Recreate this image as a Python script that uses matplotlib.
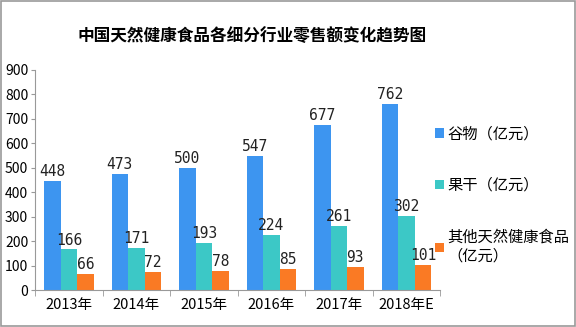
import numpy as np
import matplotlib.pyplot as plt
from matplotlib.patches import Rectangle

plt.rcParams['font.family'] = ['Noto Sans CJK SC', 'DejaVu Sans']

years = ['2013年', '2014年', '2015年', '2016年', '2017年', '2018年E']
grain = [448, 473, 500, 547, 677, 762]
dried_fruit = [166, 171, 193, 224, 261, 302]
other = [66, 72, 78, 85, 93, 101]
series_names = ['谷物（亿元）', '果干（亿元）', '其他天然健康食品\n（亿元）']
colors = ['#3D95F0', '#3CC8C6', '#FA7A24']

fig = plt.figure(figsize=(5.76, 3.27), dpi=100)
ax = fig.add_axes([0.061, 0.113, 0.703, 0.673])

x = np.arange(len(years))
w = 0.245
for i, (vals, name, c) in enumerate(zip([grain, dried_fruit, other], series_names, colors)):
    pos = x + (i - 1) * w
    ax.bar(pos, vals, width=w, color=c, label=name)
    for px, v in zip(pos, vals):
        ax.text(px, v + 8, str(v), ha='center', va='bottom', fontsize=10.5,
                family=['DejaVu Sans Mono', 'DejaVu Sans'], color='#222222')

ax.set_xlim(-0.5, len(years) - 0.5)
ax.set_ylim(0, 900)
ax.set_yticks(range(0, 901, 100))
ax.set_xticks(x)
ax.set_xticklabels(years, fontsize=10.5)
ax.set_xticks(np.arange(-0.5, len(years), 1), minor=True)
ax.tick_params(axis='x', which='major', length=0, pad=6)
ax.tick_params(axis='x', which='minor', length=4, color='#999999')
ax.tick_params(axis='y', length=3, color='#999999', labelsize=10, pad=2)

for s in ['top', 'right']:
    ax.spines[s].set_visible(False)
for s in ['left', 'bottom']:
    ax.spines[s].set_color('#999999')

fig.legend(loc='upper left', bbox_to_anchor=(0.745, 0.635), frameon=False,
           fontsize=11, handlelength=0.6, handleheight=0.6, handletextpad=0.2,
           labelspacing=2.25, borderaxespad=0)

fig.text(0.437, 0.89, '中国天然健康食品各细分行业零售额变化趋势图', ha='center',
         va='center', fontsize=12, fontweight='bold')

fig.patches.append(Rectangle((0.001, 0.002), 0.997, 0.995, transform=fig.transFigure,
                             fill=False, edgecolor='#999999', linewidth=1.2))

fig.savefig('out.png', dpi=100)
